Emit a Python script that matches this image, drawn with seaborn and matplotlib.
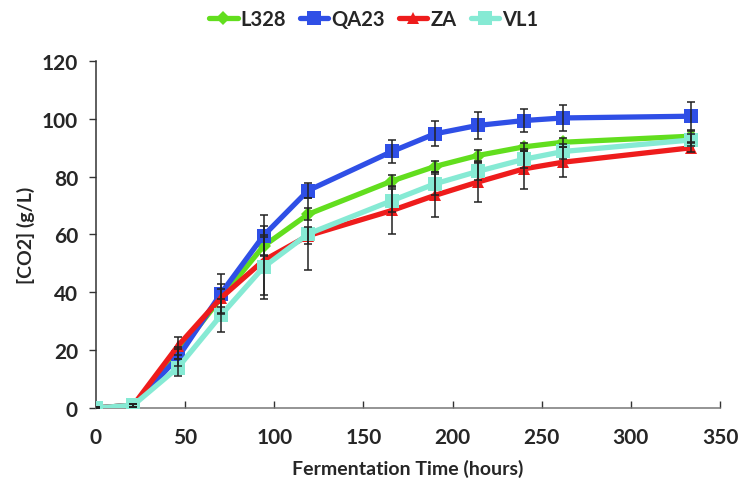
import numpy as np
import pandas as pd
import matplotlib
matplotlib.use("Agg")
import matplotlib.pyplot as plt
import seaborn as sns

# Sampling times (hours)
time_h = [0, 21, 46, 70, 94, 119, 166, 190, 214, 240, 262, 334]

# CO2 released (g/L) per strain
l328 = [0, 1, 19, 38, 56, 67, 78.5, 83.5, 87.3, 90.3, 91.9, 94]
qa23 = [0, 1, 17.5, 39.5, 59.6, 75.2, 88.7, 94.8, 97.7, 99.4, 100.3, 100.9]
za = [0, 1, 21.5, 38, 51, 59.6, 68.3, 73.5, 78.1, 82.7, 85, 90]
vl1 = [0, 1, 14, 32, 48.7, 60.2, 71.7, 77.5, 81.8, 86, 88.7, 92.7]

# Standard deviations
l328_err = [0.5, 0.5, 2, 3, 3, 2, 2, 2, 2, 1.5, 1.5, 2]
qa23_err = [0.5, 0.5, 3, 7, 7, 2.7, 4, 4.3, 4.6, 4, 4.5, 5]
za_err = [0.5, 0.5, 3, 5, 12, 3, 8.3, 7.5, 7, 7, 5.2, 1.5]
vl1_err = [0.5, 0.5, 3, 5.6, 11, 12.5, 4, 4, 3, 3, 2.5, 2]

strains = ["L328", "QA23", "ZA", "VL1"]
values = {"L328": l328, "QA23": qa23, "ZA": za, "VL1": vl1}
errors = {"L328": l328_err, "QA23": qa23_err, "ZA": za_err, "VL1": vl1_err}

colors = {"L328": "#62DE1E", "QA23": "#2F4FE6", "ZA": "#EE1C1C", "VL1": "#86EAD4"}
markers = {"L328": "D", "QA23": "s", "ZA": "^", "VL1": "s"}
msizes = {"L328": 7, "QA23": 10, "ZA": 9, "VL1": 10}

rows = []
for s in strains:
    for t, v, e in zip(time_h, values[s], errors[s]):
        rows.append({"Time": t, "CO2": v, "err": e, "Strain": s})
df = pd.DataFrame(rows)

sns.set_theme(style="white")
plt.rcParams["font.family"] = ["Lato", "DejaVu Sans"]
plt.rcParams["font.weight"] = "bold"

fig = plt.figure(figsize=(7.38, 4.85), dpi=100)
ax = fig.add_axes([0.130, 0.1567, 0.8456, 0.7155])

for s in strains:
    sub = df[df["Strain"] == s]
    sns.lineplot(data=sub, x="Time", y="CO2", ax=ax, color=colors[s],
                 linewidth=3.8, marker=markers[s], markersize=msizes[s],
                 markeredgewidth=0, label=s, zorder=3)

for s in strains:
    sub = df[df["Strain"] == s]
    ax.errorbar(sub["Time"], sub["CO2"], yerr=sub["err"], fmt="none",
                ecolor="#222222", elinewidth=1.1, capsize=3, capthick=1.1,
                zorder=4)

ax.set_xlim(0, 350)
ax.set_ylim(0, 120)
ax.set_xticks(np.arange(0, 351, 50))
ax.set_yticks(np.arange(0, 121, 20))

ax.set_xlabel("Fermentation Time (hours)", fontsize=14, fontweight="bold",
              labelpad=8)
ax.set_ylabel("[CO2] (g/L)", fontsize=14, fontweight="bold", labelpad=5)

for side in ["top", "right"]:
    ax.spines[side].set_visible(False)
ax.spines["left"].set_color("#333333")
ax.spines["left"].set_linewidth(1.1)
ax.spines["bottom"].set_color("#777777")
ax.spines["bottom"].set_linewidth(1.1)

ax.tick_params(axis="y", direction="out", length=5, width=1, color="#333333",
               labelsize=15, pad=8)
ax.tick_params(axis="x", direction="in", length=5, width=1, color="#333333",
               labelsize=15, pad=14)
ax.tick_params(left=True, bottom=True)
for lab in ax.get_xticklabels() + ax.get_yticklabels():
    lab.set_fontweight("bold")

leg = ax.legend(loc="center", bbox_to_anchor=(0.445, 1.12), ncol=4,
                frameon=False, fontsize=14.5, handlelength=1.4,
                handletextpad=0.15, columnspacing=0.7, borderaxespad=0)
for t in leg.get_texts():
    t.set_fontweight("bold")

fig.savefig("out.png", dpi=100)
